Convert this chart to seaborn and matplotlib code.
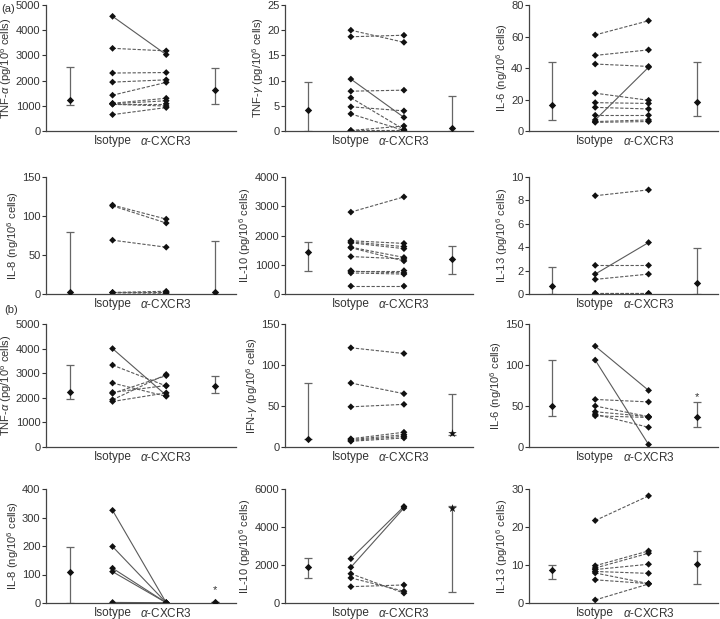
import numpy as np
import pandas as pd
import matplotlib
matplotlib.use('Agg')
import matplotlib.pyplot as plt
import seaborn as sns

sns.set_style('ticks')
plt.rcParams['font.family'] = ['Liberation Sans', 'DejaVu Sans']
plt.rcParams['mathtext.fontset'] = 'custom'
plt.rcParams['mathtext.rm'] = 'Liberation Sans'
plt.rcParams['mathtext.it'] = 'Liberation Sans:italic'

# ---- data (isotype, anti-CXCR3, median/low/high) ----
# panel (a)
a_tnfa_iso = [4550, 3280, 2300, 1940, 1420, 1100, 1080, 1080, 1060, 650]
a_tnfa_cx = [3030, 3180, 2320, 2030, 1930, 1300, 1200, 1080, 990, 930]
a_tnfa_solid = [0]
a_tnfa_left = (1250, 1050, 2550)
a_tnfa_right = (1620, 1060, 2500)

a_tnfg_iso = [20, 18.7, 10.3, 7.9, 6.6, 4.8, 3.4, 0.1, 0.1]
a_tnfg_cx = [17.6, 19, 2.7, 8.1, 0.3, 4.0, 0.1, 1.0, 0.1]
a_tnfg_solid = [2]
a_tnfg_left = (4.1, 0, 9.7)
a_tnfg_right = (0.5, 0, 7.0)

a_il6_iso = [61, 48, 42.5, 24, 18, 15, 10, 7, 6, 5.5]
a_il6_cx = [70, 51.5, 41, 19.5, 17.5, 14, 10, 40.5, 7, 6]
a_il6_solid = [7]
a_il6_left = (16.5, 7, 44)
a_il6_right = (18.5, 9.5, 43.5)

a_il8_iso = [114, 113, 69, 2, 2, 1.5]
a_il8_cx = [96, 91, 60, 3.5, 2, 1]
a_il8_solid = []
a_il8_left = (2, 0, 80)
a_il8_right = (3, 0, 68)

a_il10_iso = [2800, 1820, 1780, 1750, 1600, 1580, 1280, 800, 780, 720, 270]
a_il10_cx = [3320, 1730, 1620, 1550, 1250, 1130, 1200, 800, 720, 680, 270]
a_il10_solid = []
a_il10_left = (1440, 780, 1770)
a_il10_right = (1180, 700, 1640)

a_il13_iso = [8.4, 2.45, 1.7, 1.25, 0.05, 0.05]
a_il13_cx = [8.9, 2.45, 4.4, 1.7, 0.05, 0.05]
a_il13_solid = [2]
a_il13_left = (0.7, 0, 2.3)
a_il13_right = (0.9, 0, 3.9)

# panel (b)
b_tnfa_iso = [4000, 3330, 2600, 2220, 2180, 1920, 1850]
b_tnfa_cx = [2100, 2480, 2060, 2500, 2900, 2950, 2200]
b_tnfa_solid = [0]
b_tnfa_left = (2220, 1950, 3320)
b_tnfa_right = (2480, 2200, 2880)

b_ifng_iso = [121, 78, 49, 10, 9, 8, 7]
b_ifng_cx = [114, 65, 52, 18, 15, 13, 11]
b_ifng_solid = []
b_ifng_left = (10, 10, 78)
b_ifng_right = (17, 15, 65)

b_il6_iso = [123, 106, 58, 50, 43, 40, 38]
b_il6_cx = [69, 3, 55, 37, 37, 24, 36]
b_il6_solid = [0, 1]
b_il6_left = (50, 38, 106)
b_il6_right = (36, 24, 55)

b_il8_iso = [325, 198, 122, 110, 2]
b_il8_cx = [1, 1, 1, 1, 1]
b_il8_solid = [0, 1, 2, 3, 4]
b_il8_left = (108, 0, 198)
b_il8_right = (2, 2, 2)

b_il10_iso = [2330, 1880, 1540, 1320, 860]
b_il10_cx = [5080, 5000, 520, 620, 950]
b_il10_solid = [0, 1]
b_il10_left = (1880, 1320, 2350)
b_il10_right = (5000, 600, 5100)

b_il13_iso = [21.7, 9.8, 9.2, 8.8, 8.3, 7.9, 6.1, 0.8]
b_il13_cx = [28.2, 13.7, 13.1, 10.2, 7.8, 5.1, 5.1, 5.0]
b_il13_solid = []
b_il13_left = (8.8, 6.2, 10)
b_il13_right = (10.2, 5.1, 13.7)

pg = ' (pg/10$^6$ cells)'
ng = ' (ng/10$^6$ cells)'
panels = [
    ('TNF-$\\alpha$' + pg, a_tnfa_iso, a_tnfa_cx, a_tnfa_solid, a_tnfa_left, a_tnfa_right, 5000, 1000, None),
    ('TNF-$\\gamma$' + pg, a_tnfg_iso, a_tnfg_cx, a_tnfg_solid, a_tnfg_left, a_tnfg_right, 25, 5, None),
    ('IL-6' + ng, a_il6_iso, a_il6_cx, a_il6_solid, a_il6_left, a_il6_right, 80, 20, None),
    ('IL-8' + ng, a_il8_iso, a_il8_cx, a_il8_solid, a_il8_left, a_il8_right, 150, 50, None),
    ('IL-10' + pg, a_il10_iso, a_il10_cx, a_il10_solid, a_il10_left, a_il10_right, 4000, 1000, None),
    ('IL-13' + pg, a_il13_iso, a_il13_cx, a_il13_solid, a_il13_left, a_il13_right, 10, 2, None),
    ('TNF-$\\alpha$' + pg, b_tnfa_iso, b_tnfa_cx, b_tnfa_solid, b_tnfa_left, b_tnfa_right, 5000, 1000, None),
    ('IFN-$\\gamma$' + pg, b_ifng_iso, b_ifng_cx, b_ifng_solid, b_ifng_left, b_ifng_right, 150, 50, 'star'),
    ('IL-6' + ng, b_il6_iso, b_il6_cx, b_il6_solid, b_il6_left, b_il6_right, 150, 50, 61),
    ('IL-8' + ng, b_il8_iso, b_il8_cx, b_il8_solid, b_il8_left, b_il8_right, 400, 100, 45),
    ('IL-10' + pg, b_il10_iso, b_il10_cx, b_il10_solid, b_il10_left, b_il10_right, 6000, 2000, 'star'),
    ('IL-13' + pg, b_il13_iso, b_il13_cx, b_il13_solid, b_il13_left, b_il13_right, 30, 10, None),
]

W, H = 720, 619
fig = plt.figure(figsize=(W / 100, H / 100), dpi=100)

# axes boxes in pixels: (left, right) per column, (top, bottom) per row
cols = [(46, 236), (285, 473), (529, 718)]
rows = [(5, 131), (177, 294), (324, 447), (489, 603)]

ink = '#333333'
for i, (ylab, iso, cx, solid, left, right, ymax, ystep, mark) in enumerate(panels):
    r, c = divmod(i, 3)
    x0, x1 = cols[c]
    y0, y1 = rows[r]
    ax = fig.add_axes([x0 / W, 1 - y1 / H, (x1 - x0) / W, (y1 - y0) / H])

    df = pd.DataFrame({
        'pair': list(range(len(iso))) * 2,
        'x': [1] * len(iso) + [2] * len(cx),
        'y': list(iso) + list(cx),
    })
    df['kind'] = np.where(df['pair'].isin(solid), 'solid', 'dashed')
    sns.lineplot(data=df, x='x', y='y', units='pair', estimator=None, style='kind',
                 dashes={'solid': '', 'dashed': (3, 1.5)}, color='#5a5a5a', lw=0.8,
                 legend=False, ax=ax)
    sns.scatterplot(data=df, x='x', y='y', color='#111111', marker='D', s=12,
                    edgecolor='none', legend=False, ax=ax, zorder=4)

    for xpos, (med, lo, hi) in [(0.2, left), (2.9, right)]:
        ax.errorbar([xpos], [med], yerr=[[med - lo], [hi - med]], fmt='none',
                    ecolor='#666666', elinewidth=0.9, capsize=3, capthick=0.9)
        m = '*' if (mark == 'star' and xpos > 2) else 'D'
        sz = 40 if m == '*' else 14
        ax.scatter([xpos], [med], marker=m, s=sz, color='#111111', zorder=5, lw=0)
    if mark is not None and mark != 'star':
        ax.text(2.9, mark, '*', ha='center', va='center', fontsize=8, color=ink)

    ax.set_xlim(-0.24, 3.3)
    ax.set_ylim(0, ymax)
    ax.set_yticks(np.arange(0, ymax + ystep / 2, ystep))
    ax.set_xticks([1, 2])
    ax.set_xticklabels(['Isotype', '$\\alpha$-CXCR3'], fontsize=8.5, color=ink)
    ax.tick_params(axis='x', length=0, pad=3)
    ax.tick_params(axis='y', labelsize=8, length=3, width=0.8, colors=ink, pad=1)
    ax.set_xlabel('')
    ax.set_ylabel(ylab, fontsize=8, color=ink, labelpad=1)
    for s in ['left', 'bottom']:
        ax.spines[s].set_color('#444444')
        ax.spines[s].set_linewidth(0.9)
    sns.despine(ax=ax)

fig.text(1 / W, 1 - 9 / H, '(a)', fontsize=8, color=ink, va='center')
fig.text(4 / W, 1 - 310 / H, '(b)', fontsize=8, color=ink, va='center')

fig.savefig('out.png', dpi=100)
